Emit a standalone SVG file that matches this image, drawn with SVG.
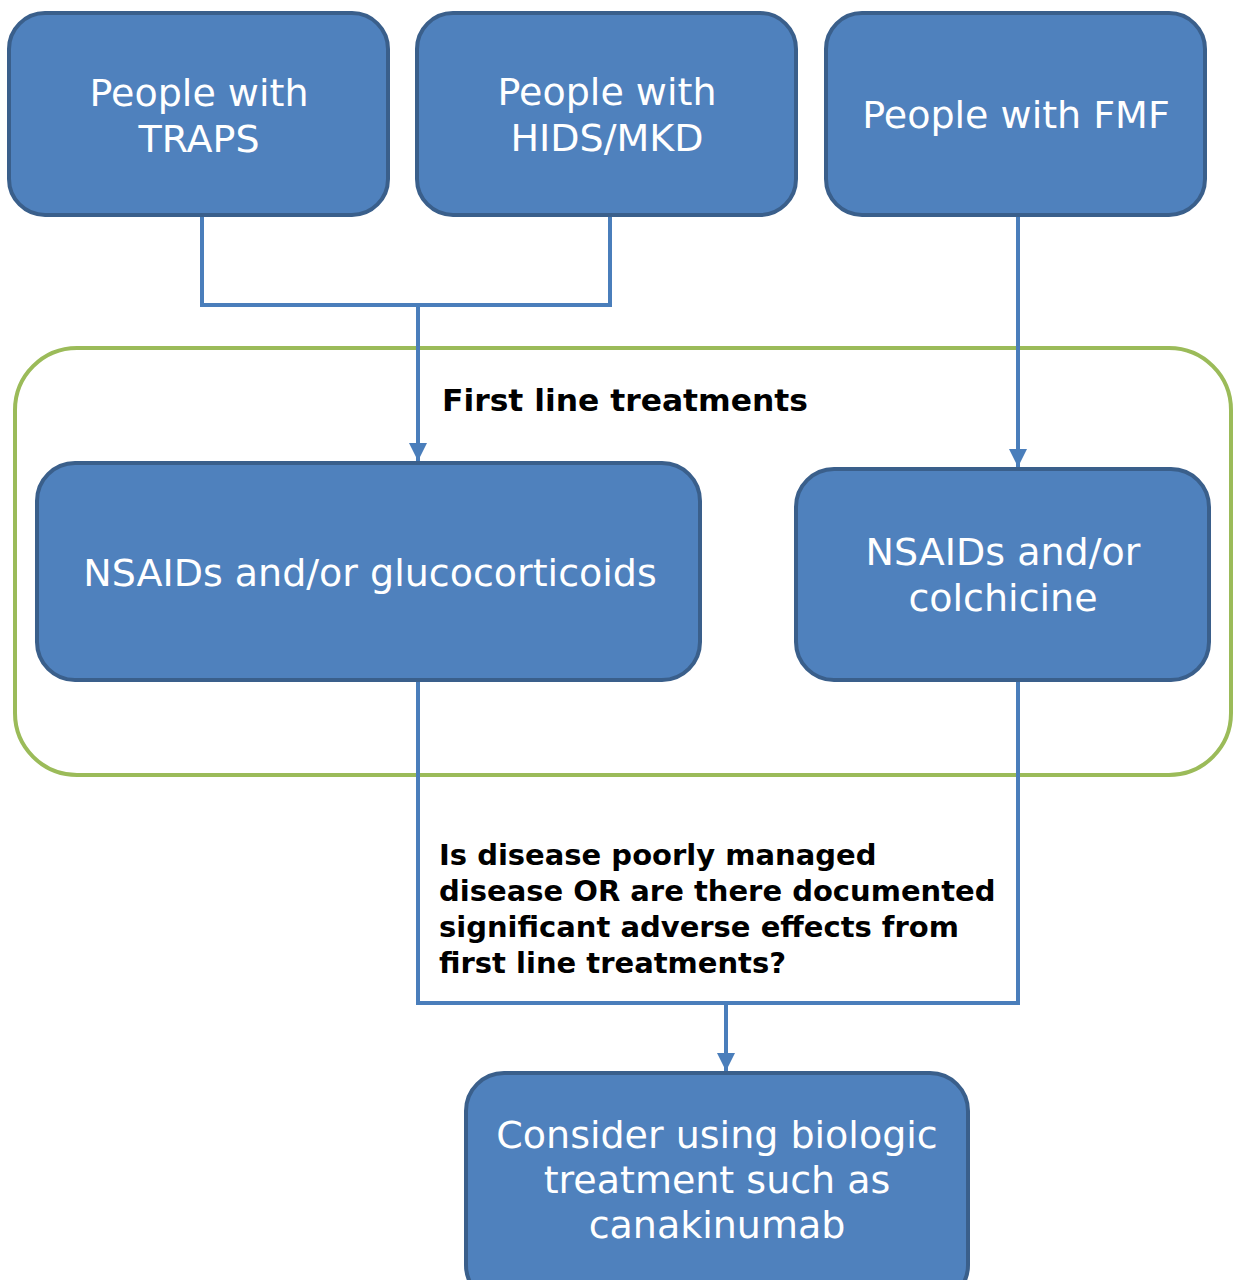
<svg xmlns="http://www.w3.org/2000/svg" width="1234" height="1280" viewBox="0 0 1234 1280">
<style>
.box{fill:#4f81bd;stroke:#3a5f8b;stroke-width:4}
.t{font-family:"DejaVu Sans","Verdana",sans-serif;font-size:38px;fill:#ffffff;text-anchor:middle}
.b{font-family:"DejaVu Sans","Verdana",sans-serif;font-size:29px;font-weight:bold;fill:#000000}
.c{fill:none;stroke:#4a7ebb;stroke-width:4}
</style>
<defs>
<marker id="ah" viewBox="0 0 10 10" refX="10" refY="5" markerWidth="4.5" markerHeight="4.5" orient="auto" markerUnits="strokeWidth">
<path d="M0,0 L10,5 L0,10 z" fill="#4a7ebb"/>
</marker>
</defs>
<rect width="1234" height="1280" fill="#ffffff"/>
<g id="group-first-line">
<rect x="15" y="348" width="1216" height="427" rx="62" fill="none" stroke="#9bbb59" stroke-width="4"/>
<text class="b" x="442" y="411" style="font-size:31px" textLength="366" lengthAdjust="spacingAndGlyphs">First line treatments</text>
</g>
<g id="connectors">
<path class="c" d="M202,215 V305 H610 V215"/>
<path class="c" d="M418,305 V461" marker-end="url(#ah)"/>
<path class="c" d="M1018,215 V467" marker-end="url(#ah)"/>
<path class="c" d="M418,680 V1003 H1018 V680"/>
<path class="c" d="M726,1003 V1071" marker-end="url(#ah)"/>
<text class="b" x="439" y="865">Is disease poorly managed</text>
<text class="b" x="439" y="901">disease OR are there documented</text>
<text class="b" x="439" y="937">significant adverse effects from</text>
<text class="b" x="439" y="973">first line treatments?</text>
</g>
<g id="traps">
<rect class="box" x="9" y="13" width="379" height="202" rx="36"/>
<text class="t" x="199" y="106">People with</text>
<text class="t" x="199" y="152">TRAPS</text>
</g>
<g id="hids">
<rect class="box" x="417" y="13" width="379" height="202" rx="36"/>
<text class="t" x="607" y="105">People with</text>
<text class="t" x="607" y="151">HIDS/MKD</text>
</g>
<g id="fmf">
<rect class="box" x="826" y="13" width="379" height="202" rx="36"/>
<text class="t" x="1016" y="128">People with FMF</text>
</g>
<g id="nsaids-gluco">
<rect class="box" x="37" y="463" width="663" height="217" rx="38"/>
<text class="t" x="370" y="586">NSAIDs and/or glucocorticoids</text>
</g>
<g id="nsaids-colch">
<rect class="box" x="796" y="469" width="413" height="211" rx="38"/>
<text class="t" x="1003" y="565">NSAIDs and/or</text>
<text class="t" x="1003" y="611">colchicine</text>
</g>
<g id="biologic">
<rect class="box" x="466" y="1073" width="502" height="230" rx="38"/>
<text class="t" x="717" y="1148">Consider using biologic</text>
<text class="t" x="717" y="1193">treatment such as</text>
<text class="t" x="717" y="1238">canakinumab</text>
</g>
</svg>
